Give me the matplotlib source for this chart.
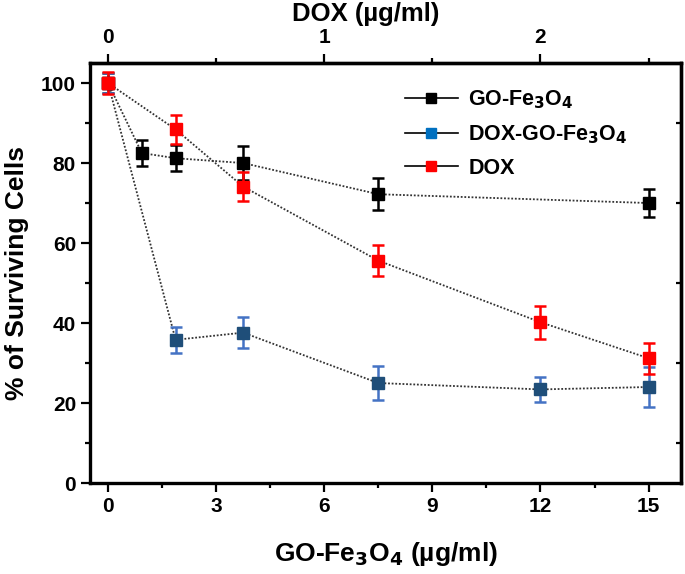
import matplotlib.pyplot as plt
from matplotlib.ticker import MultipleLocator, NullLocator, FixedLocator

plt.rcParams["font.family"] = ["Liberation Sans", "DejaVu Sans"]
plt.rcParams["font.weight"] = "bold"
plt.rcParams["mathtext.default"] = "bf"

# GO-Fe3O4 alone
go_x = [0, 0.9375, 1.875, 3.75, 7.5, 15]
go_y = [100, 82.5, 81.2, 80.0, 72.2, 70.0]
go_err = [2.5, 3.2, 3.2, 4.3, 4.0, 3.6]

# DOX-GO-Fe3O4
dgo_x = [0, 1.875, 3.75, 7.5, 12, 15]
dgo_y = [100, 35.8, 37.6, 25.0, 23.4, 24.0]
dgo_err = [2.5, 3.3, 3.8, 4.2, 3.2, 5.0]

# DOX alone (plotted on GO scale, top axis = GO / 6)
dox_x = [0, 1.875, 3.75, 7.5, 12, 15]
dox_y = [100, 88.4, 74.1, 55.6, 40.2, 31.2]
dox_err = [2.7, 3.7, 3.6, 3.8, 4.1, 3.9]

top_ticks = [0, 1, 2]
top_minor = [0.5, 1.5, 2.5]

series = [
    ("GO-Fe$_3$O$_4$", go_x, go_y, go_err, "black", "black", "black"),
    ("DOX-GO-Fe$_3$O$_4$", dgo_x, dgo_y, dgo_err, "#1f4e79", "#4472c4", "#0070c0"),
    ("DOX", dox_x, dox_y, dox_err, "#ff0000", "#ff0000", "#ff0000"),
]

fig = plt.figure(figsize=(6.85, 5.74), dpi=100)
ax = fig.add_axes([0.1314, 0.1585, 0.8628, 0.7317])

for label, x, y, err, mcol, ecol, lcol in series:
    ax.plot(x, y, linestyle=(0, (1, 1)), color="#333333", linewidth=1.3, zorder=2)
    ax.errorbar(x, y, yerr=err, fmt="none", ecolor=ecol, elinewidth=1.8,
                capsize=4.5, capthick=1.8, zorder=3)
    ax.plot(x, y, linestyle="none", marker="s", markersize=9,
            color=mcol, zorder=4)
    # legend proxy
    ax.plot([], [], color="black", linewidth=1.2, marker="s", markersize=6.5,
            markerfacecolor=lcol, markeredgecolor=lcol, label=label)

# red point sits on top at x = 0
ax.plot(dox_x[:1], dox_y[:1], linestyle="none", marker="s", markersize=9,
        color="#ff0000", zorder=5)

ax.set_xlim(-0.5, 15.9)
ax.set_ylim(0, 105)
ax.xaxis.set_major_locator(MultipleLocator(3))
ax.xaxis.set_minor_locator(MultipleLocator(1.5))
ax.yaxis.set_major_locator(MultipleLocator(20))
ax.yaxis.set_minor_locator(MultipleLocator(10))
ax.tick_params(which="both", direction="out", width=1.6, labelsize=15)
ax.tick_params(which="major", length=6.5)
ax.tick_params(which="minor", length=3.4)
for s in ax.spines.values():
    s.set_linewidth(2.4)

ax.set_xlabel("GO-Fe$_3$O$_4$ (\u00b5g/ml)", fontsize=19, fontweight="bold",
              labelpad=17)
ax.set_ylabel("% of Surviving Cells", fontsize=19, fontweight="bold",
              labelpad=9)

# right side: only short inward ticks at the odd tens
right = ax.secondary_yaxis("right")
right.yaxis.set_major_locator(NullLocator())
right.yaxis.set_minor_locator(MultipleLocator(20, offset=10))
right.tick_params(which="minor", direction="in", length=3.6, width=1.6)
right.spines["right"].set_linewidth(2.4)

top = ax.secondary_xaxis("top", functions=(lambda v: v / 6, lambda v: v * 6))
top.xaxis.set_major_locator(FixedLocator(top_ticks))
top.xaxis.set_minor_locator(FixedLocator(top_minor))
top.tick_params(which="both", direction="out", width=1.6, labelsize=15)
top.tick_params(which="major", length=6.5, pad=5)
top.tick_params(which="minor", length=3.4)
top.set_xlabel("DOX (\u00b5g/ml)", fontsize=18.5, fontweight="bold", labelpad=5)
top.xaxis.label.set_x(0.467)
top.spines["top"].set_linewidth(2.4)

ax.legend(loc="upper left", bbox_to_anchor=(0.50, 0.985), frameon=False,
          handlelength=2.45, handletextpad=0.5, labelspacing=0.55,
          prop={"weight": "bold", "size": 15.5})

fig.savefig("out.png", dpi=100)
